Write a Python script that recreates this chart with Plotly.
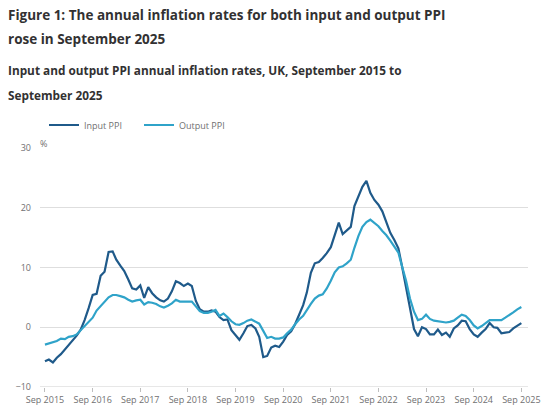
import plotly.graph_objects as go
import pandas as pd

months = pd.date_range("2015-09-01", "2025-09-01", freq="MS")

input_ppi = [
    -5.7, -5.4, -5.9, -5.1, -4.5, -3.7, -2.8, -2.0, -1.4, -0.4, 1.2, 3.2,
    5.4, 5.6, 8.6, 9.3, 12.6, 12.7, 11.3, 10.3, 9.4, 8.0, 6.5, 6.3,
    7.0, 4.9, 6.7, 5.7, 5.0, 4.5, 4.3, 4.8, 6.0, 7.7, 7.4, 6.9,
    7.3, 6.9, 4.4, 3.0, 2.6, 2.6, 2.8, 2.6, 1.7, 1.2, 1.3, -0.5,
    -1.3, -2.1, -1.0, 0.2, 0.4, -0.2, -1.6, -5.0, -4.8, -3.4, -3.1, -3.3,
    -2.4, -1.3, -0.7, 0.5, 2.1, 3.7, 5.8, 9.1, 10.7, 10.9, 11.6, 12.4,
    13.4, 15.5, 17.5, 15.6, 16.2, 16.8, 20.3, 22.0, 23.5, 24.5, 22.5, 21.3,
    20.5, 19.4, 17.5, 15.8, 14.6, 13.2, 10.2, 6.5, 3.0, -0.3, -1.5, 0.0,
    -0.3, -1.2, -1.2, -0.4, -1.3, -0.9, -1.6, -0.2, 0.3, 1.1, 1.0, -0.3,
    -1.2, -1.6, -0.9, -0.3, 0.7, 0.0, -0.1, -1.0, -0.9, -0.8, -0.2, 0.2,
    0.7,
]

output_ppi = [
    -2.9, -2.7, -2.6, -2.3, -1.9, -2.0, -1.6, -1.5, -1.2, -0.5, 0.3, 0.9,
    1.6, 2.8, 3.5, 4.2, 5.0, 5.4, 5.4, 5.2, 5.0, 4.6, 4.3, 4.5,
    4.6, 3.8, 4.2, 4.1, 3.9, 3.5, 3.3, 3.6, 4.0, 4.6, 4.3, 4.3,
    4.3, 4.3, 3.5, 2.7, 2.4, 2.4, 2.6, 2.9, 1.9, 2.3, 1.7, 1.0,
    0.5, 0.4, 0.7, 1.1, 1.3, 1.0, 0.6, -0.6, -1.8, -1.6, -1.9, -1.9,
    -1.7, -1.0, -0.4, 0.5, 1.3, 1.9, 2.9, 3.9, 4.8, 5.3, 5.5, 6.5,
    7.8, 9.2, 10.0, 10.2, 10.7, 11.3, 13.3, 15.3, 16.8, 17.6, 18.0, 17.5,
    16.9, 16.1, 15.4, 14.5, 13.6, 12.5, 10.2, 7.8, 4.8, 2.6, 1.2, 1.4,
    2.1, 1.4, 1.1, 1.0, 0.9, 0.8, 0.9, 1.1, 1.6, 2.1, 1.9, 1.2,
    0.3, -0.2, 0.2, 0.7, 1.2, 1.2, 1.2, 1.2, 1.6, 2.0, 2.5, 3.0,
    3.4,
]

tick_dates = pd.date_range("2015-09-01", "2025-09-01", freq="12MS")
tick_labels = ["Sep %d" % d.year for d in tick_dates]

series_names = ["Input PPI", "Output PPI"]
colors = ["#1F5A8A", "#2FA3C9"]

FONT = "Open Sans"
TEXT = "#323132"
GREY = "#707071"

W, H = 550, 412
L, R, T, B = 40, 22, 148, 25
PW, PH = W - L - R, H - T - B

def px_x(x):
    return (x - L) / PW

def px_y(y):
    return (H - B - y) / PH

fig = go.Figure()
for name, vals, col in zip(series_names, [input_ppi, output_ppi], colors):
    fig.add_trace(go.Scatter(
        x=months, y=vals, name=name, mode="lines",
        line=dict(color=col, width=2.2),
    ))

title_font = dict(family=FONT, size=13.5, color=TEXT, weight="bold")
sub_font = dict(family=FONT, size=11.8, color=TEXT, weight="bold")

fig.update_layout(
    width=W, height=H,
    margin=dict(l=L, r=R, t=T, b=B, pad=0, autoexpand=False),
    paper_bgcolor="white", plot_bgcolor="white",
    font=dict(family=FONT, color=GREY, size=9),
    showlegend=True,
    legend=dict(
        orientation="h", x=px_x(44), xanchor="left", y=px_y(125), yanchor="middle",
        font=dict(family=FONT, size=9, color=GREY),
        bgcolor="rgba(0,0,0,0)", tracegroupgap=0, entrywidth=50,
    ),
    xaxis=dict(
        type="date", automargin=False,
        range=["2015-07-25", "2025-10-22"],
        tickvals=tick_dates, ticktext=tick_labels,
        showgrid=False, zeroline=False,
        showline=False,
        ticks="outside", ticklen=4, tickcolor="#bebebe",
        tickfont=dict(family=FONT, size=9, color=GREY),
    ),
    yaxis=dict(
        range=[-10, 30], automargin=False,
        tickvals=[-10, 0, 10, 20, 30],
        showgrid=True, gridcolor="#dedede", gridwidth=1,
        zeroline=False,
        tickfont=dict(family=FONT, size=9, color=GREY),
        ticks="", ticklabelstandoff=8,
    ),
    annotations=[
        dict(text="Figure 1: The annual inflation rates for both input and output PPI",
             xref="paper", yref="paper", x=px_x(6), y=px_y(15),
             xanchor="left", yanchor="middle", showarrow=False, font=title_font),
        dict(text="rose in September 2025",
             xref="paper", yref="paper", x=px_x(6), y=px_y(39),
             xanchor="left", yanchor="middle", showarrow=False, font=title_font),
        dict(text="Input and output PPI annual inflation rates, UK, September 2015 to",
             xref="paper", yref="paper", x=px_x(6), y=px_y(70),
             xanchor="left", yanchor="middle", showarrow=False, font=sub_font),
        dict(text="September 2025",
             xref="paper", yref="paper", x=px_x(6), y=px_y(95),
             xanchor="left", yanchor="middle", showarrow=False, font=sub_font),
        dict(text="%", xref="paper", yref="paper", x=px_x(38), y=px_y(143),
             xanchor="left", yanchor="middle", showarrow=False,
             font=dict(family=FONT, size=9, color=GREY)),
    ],
)

fig.add_hline(y=-10, line=dict(color="#cfcfcf", width=1))

post = (
    "document.documentElement.style.overflow='hidden';"
    "document.body.style.margin='0';"
    "document.body.style.overflow='hidden';"
    "document.body.style.height='412px';"
)
fig.write_html("out.html", post_script=post, config={"displayModeBar": False})
